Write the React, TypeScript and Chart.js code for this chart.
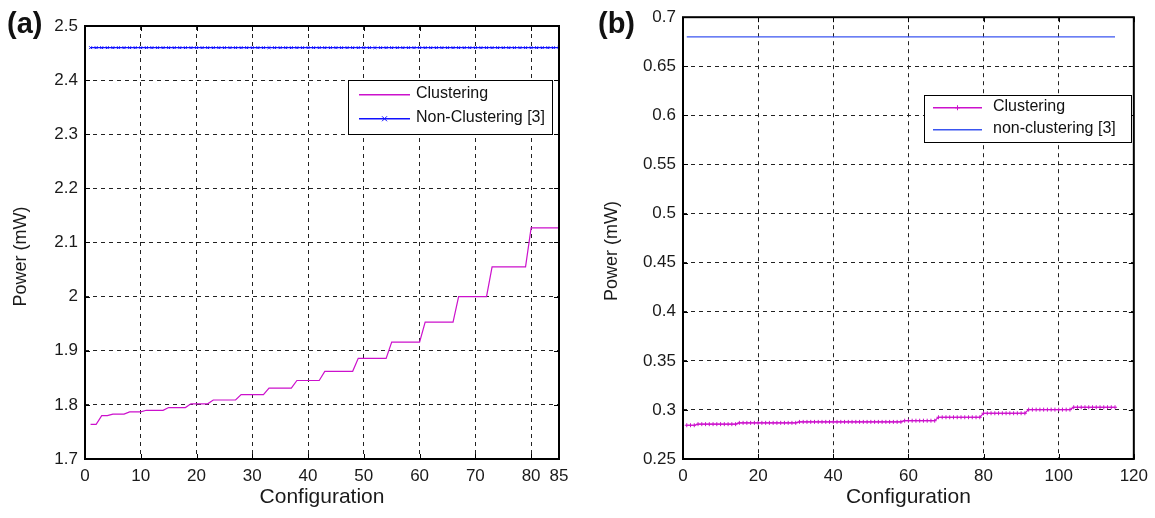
import React, { useEffect, useRef } from 'react';
import Chart from 'chart.js/auto';

// ---------- Panel (a) ----------
const A_X_TICKS = [0, 10, 20, 30, 40, 50, 60, 70, 80, 85];
const A_Y_TICKS = [1.7, 1.8, 1.9, 2, 2.1, 2.2, 2.3, 2.4, 2.5];
const A_LABELS = ['Clustering', 'Non-Clustering [3]'];
// configuration 1..85
const A_CLUSTERING = [
  1.764, 1.764,
  1.780, 1.780,
  1.783, 1.783, 1.783,
  1.787, 1.787, 1.787,
  1.790, 1.790, 1.790, 1.790,
  1.795, 1.795, 1.795, 1.795,
  1.802, 1.802, 1.802, 1.802,
  1.809, 1.809, 1.809, 1.809, 1.809,
  1.819, 1.819, 1.819, 1.819, 1.819,
  1.831, 1.831, 1.831, 1.831, 1.831,
  1.845, 1.845, 1.845, 1.845, 1.845,
  1.862, 1.862, 1.862, 1.862, 1.862, 1.862,
  1.886, 1.886, 1.886, 1.886, 1.886, 1.886,
  1.916, 1.916, 1.916, 1.916, 1.916, 1.916,
  1.953, 1.953, 1.953, 1.953, 1.953, 1.953,
  2.000, 2.000, 2.000, 2.000, 2.000, 2.000,
  2.055, 2.055, 2.055, 2.055, 2.055, 2.055, 2.055,
  2.127, 2.127, 2.127, 2.127, 2.127, 2.127,
];
const A_NONCLUSTERING = [
  2.46, 2.46, 2.46, 2.46, 2.46, 2.46, 2.46, 2.46, 2.46, 2.46,
  2.46, 2.46, 2.46, 2.46, 2.46, 2.46, 2.46, 2.46, 2.46, 2.46,
  2.46, 2.46, 2.46, 2.46, 2.46, 2.46, 2.46, 2.46, 2.46, 2.46,
  2.46, 2.46, 2.46, 2.46, 2.46, 2.46, 2.46, 2.46, 2.46, 2.46,
  2.46, 2.46, 2.46, 2.46, 2.46, 2.46, 2.46, 2.46, 2.46, 2.46,
  2.46, 2.46, 2.46, 2.46, 2.46, 2.46, 2.46, 2.46, 2.46, 2.46,
  2.46, 2.46, 2.46, 2.46, 2.46, 2.46, 2.46, 2.46, 2.46, 2.46,
  2.46, 2.46, 2.46, 2.46, 2.46, 2.46, 2.46, 2.46, 2.46, 2.46,
  2.46, 2.46, 2.46, 2.46, 2.46,
];

// ---------- Panel (b) ----------
const B_X_TICKS = [0, 20, 40, 60, 80, 100, 120];
const B_Y_TICKS = [0.25, 0.3, 0.35, 0.4, 0.45, 0.5, 0.55, 0.6, 0.65, 0.7];
const B_LABELS = ['Clustering', 'non-clustering [3]'];
// configuration 1..115
const B_CLUSTERING = [
  0.2844, 0.2844, 0.2844,
  0.2855, 0.2855, 0.2855, 0.2855, 0.2855, 0.2855, 0.2855, 0.2855, 0.2855, 0.2855, 0.2855,
  0.2868, 0.2868, 0.2868, 0.2868, 0.2868, 0.2868, 0.2868, 0.2868, 0.2868, 0.2868, 0.2868, 0.2868, 0.2868, 0.2868, 0.2868, 0.2868,
  0.2878, 0.2878, 0.2878, 0.2878, 0.2878, 0.2878, 0.2878, 0.2878, 0.2878, 0.2878,
  0.2878, 0.2878, 0.2878, 0.2878, 0.2878, 0.2878, 0.2878, 0.2878, 0.2878, 0.2878,
  0.2878, 0.2878, 0.2878, 0.2878, 0.2878, 0.2878, 0.2878, 0.2878,
  0.2890, 0.2890, 0.2890, 0.2890, 0.2890, 0.2890, 0.2890, 0.2890, 0.2890,
  0.2925, 0.2925, 0.2925, 0.2925, 0.2925, 0.2925, 0.2925, 0.2925, 0.2925, 0.2925, 0.2925, 0.2925,
  0.2966, 0.2966, 0.2966, 0.2966, 0.2966, 0.2966, 0.2966, 0.2966, 0.2966, 0.2966, 0.2966, 0.2966,
  0.3003, 0.3003, 0.3003, 0.3003, 0.3003, 0.3003, 0.3003, 0.3003, 0.3003, 0.3003, 0.3003, 0.3003,
  0.3027, 0.3027, 0.3027, 0.3027, 0.3027, 0.3027, 0.3027, 0.3027, 0.3027, 0.3027, 0.3027, 0.3027,
];
const B_NONCLUSTERING = [
  0.68, 0.68, 0.68, 0.68, 0.68, 0.68, 0.68, 0.68, 0.68, 0.68,
  0.68, 0.68, 0.68, 0.68, 0.68, 0.68, 0.68, 0.68, 0.68, 0.68,
  0.68, 0.68, 0.68, 0.68, 0.68, 0.68, 0.68, 0.68, 0.68, 0.68,
  0.68, 0.68, 0.68, 0.68, 0.68, 0.68, 0.68, 0.68, 0.68, 0.68,
  0.68, 0.68, 0.68, 0.68, 0.68, 0.68, 0.68, 0.68, 0.68, 0.68,
  0.68, 0.68, 0.68, 0.68, 0.68, 0.68, 0.68, 0.68, 0.68, 0.68,
  0.68, 0.68, 0.68, 0.68, 0.68, 0.68, 0.68, 0.68, 0.68, 0.68,
  0.68, 0.68, 0.68, 0.68, 0.68, 0.68, 0.68, 0.68, 0.68, 0.68,
  0.68, 0.68, 0.68, 0.68, 0.68, 0.68, 0.68, 0.68, 0.68, 0.68,
  0.68, 0.68, 0.68, 0.68, 0.68, 0.68, 0.68, 0.68, 0.68, 0.68,
  0.68, 0.68, 0.68, 0.68, 0.68, 0.68, 0.68, 0.68, 0.68, 0.68,
  0.68, 0.68, 0.68, 0.68, 0.68,
];

const X_TITLE = 'Configuration';
const Y_TITLE = 'Power (mW)';

const FONT = '"Liberation Sans", Arial, Helvetica, sans-serif';
const MAGENTA = '#cc11cc';
const BLUE_A = '#1010ff';
const BLUE_B = '#3a55f0';

const toPoints = (vals: number[]) => vals.map((v, i) => ({ x: i + 1, y: v }));

function drawMarker(ctx: CanvasRenderingContext2D, style: string, x: number, y: number, r: number) {
  ctx.beginPath();
  if (style === 'cross') {
    ctx.moveTo(x - r, y); ctx.lineTo(x + r, y);
    ctx.moveTo(x, y - r); ctx.lineTo(x, y + r);
  } else if (style === 'crossRot') {
    ctx.moveTo(x - r, y - r); ctx.lineTo(x + r, y + r);
    ctx.moveTo(x - r, y + r); ctx.lineTo(x + r, y - r);
  }
  ctx.stroke();
}

const framePlugin = {
  id: 'frameBox',
  afterDatasetsDraw(chart: any) {
    const { ctx, chartArea: a, scales } = chart;
    ctx.save();
    ctx.strokeStyle = '#000';
    ctx.lineWidth = 1;
    const tl = 5;
    ctx.beginPath();
    scales.x.ticks.forEach((t: any) => {
      const px = Math.round(scales.x.getPixelForValue(t.value)) + 0.5;
      ctx.moveTo(px, a.bottom); ctx.lineTo(px, a.bottom - tl);
      ctx.moveTo(px, a.top); ctx.lineTo(px, a.top + tl);
    });
    scales.y.ticks.forEach((t: any) => {
      const py = Math.round(scales.y.getPixelForValue(t.value)) + 0.5;
      ctx.moveTo(a.left, py); ctx.lineTo(a.left + tl, py);
      ctx.moveTo(a.right, py); ctx.lineTo(a.right - tl, py);
    });
    ctx.stroke();
    ctx.lineWidth = 2;
    ctx.strokeRect(a.left, a.top, a.right - a.left, a.bottom - a.top);
    ctx.restore();
  },
};

const yTitlePlugin = {
  id: 'yTitle',
  afterDraw(chart: any, _args: any, opts: any) {
    const { ctx, chartArea: a } = chart;
    ctx.save();
    ctx.font = `${opts.fontSize}px ${FONT}`;
    ctx.fillStyle = '#1a1a1a';
    ctx.textAlign = 'center';
    ctx.textBaseline = 'middle';
    ctx.translate(opts.x, (a.top + a.bottom) / 2 + opts.dy);
    ctx.rotate(-Math.PI / 2);
    ctx.fillText(opts.text, 0, 0);
    ctx.restore();
  },
};

const legendPlugin = {
  id: 'boxLegend',
  afterDraw(chart: any, _args: any, opts: any) {
    const { ctx } = chart;
    const { x, y, w, h, rows, lineX1, lineX2, textX, fontSize } = opts;
    ctx.save();
    ctx.fillStyle = '#fff';
    ctx.fillRect(x, y, w, h);
    ctx.strokeStyle = '#000';
    ctx.lineWidth = 1;
    ctx.strokeRect(x + 0.5, y + 0.5, w, h);
    ctx.font = `${fontSize}px ${FONT}`;
    ctx.textBaseline = 'middle';
    ctx.textAlign = 'left';
    chart.data.datasets.forEach((ds: any, i: number) => {
      const color = String(ds.borderColor);
      const cy = Math.round(y + rows[i]);
      ctx.fillStyle = color;
      ctx.fillRect(x + lineX1, cy, lineX2 - lineX1, 1.5);
      if (ds.pointRadius > 0) {
        ctx.strokeStyle = color;
        ctx.lineWidth = 1;
        drawMarker(ctx, ds.pointStyle, x + (lineX1 + lineX2) / 2, cy + 0.75, 2.5);
      }
      ctx.fillStyle = '#111';
      ctx.fillText(ds.label, x + textX, cy);
    });
    ctx.restore();
  },
};

function makeConfig(p: any) {
  const tickFont = { family: FONT, size: 17 };
  return {
    type: 'line',
    data: { datasets: p.datasets },
    options: {
      animation: false,
      responsive: false,
      maintainAspectRatio: false,
      layout: { padding: p.padding },
      plugins: {
        legend: { display: false },
        tooltip: { enabled: false },
        boxLegend: p.legend,
        yTitle: p.yTitle,
      },
      scales: {
        x: {
          type: 'linear',
          min: p.xTicks[0],
          max: p.xTicks[p.xTicks.length - 1],
          afterBuildTicks: (s: any) => { s.ticks = p.xTicks.map((v: number) => ({ value: v })); },
          afterFit: (s: any) => { s.height = p.xHeight; },
          grid: { color: '#222', lineWidth: 1, drawTicks: false },
          border: { display: false, dash: [4, 4] },
          ticks: { font: tickFont, color: '#1a1a1a', padding: 7, maxRotation: 0, autoSkip: false, callback: (v: any) => String(v) },
          title: { display: true, text: X_TITLE, font: { family: FONT, size: 21 }, color: '#1a1a1a', padding: { top: 0, bottom: 8 } },
        },
        y: {
          type: 'linear',
          min: p.yTicks[0],
          max: p.yTicks[p.yTicks.length - 1],
          afterBuildTicks: (s: any) => { s.ticks = p.yTicks.map((v: number) => ({ value: v })); },
          afterFit: (s: any) => { s.width = p.yWidth; },
          grid: { color: '#222', lineWidth: 1, drawTicks: false },
          border: { display: false, dash: [4, 4] },
          ticks: { font: tickFont, color: '#1a1a1a', padding: 7, autoSkip: false, callback: (v: any) => String(v) },
          title: { display: false },
        },
      },
    },
    plugins: [framePlugin, legendPlugin, yTitlePlugin],
  };
}

function Panel({ config, width, height }: { config: any; width: number; height: number }) {
  const ref = useRef<HTMLCanvasElement>(null);
  useEffect(() => {
    const chart = new Chart(ref.current as HTMLCanvasElement, config);
    return () => chart.destroy();
  }, []);
  return <canvas ref={ref} width={width} height={height} style={{ display: 'block', width, height }} />;
}

const configA = makeConfig({
  xTicks: A_X_TICKS,
  yTicks: A_Y_TICKS,
  padding: { top: 26, right: 21, left: 0, bottom: 0 },
  yWidth: 85,
  xHeight: 59,
  datasets: [
    {
      label: A_LABELS[0],
      data: toPoints(A_CLUSTERING),
      borderColor: MAGENTA,
      borderWidth: 1.2,
      pointRadius: 0,
      tension: 0,
    },
    {
      label: A_LABELS[1],
      data: toPoints(A_NONCLUSTERING),
      borderColor: BLUE_A,
      borderWidth: 1.2,
      pointRadius: 2,
      pointStyle: 'crossRot',
      pointBorderColor: BLUE_A,
      pointBorderWidth: 1,
      tension: 0,
    },
  ],
  legend: { x: 348, y: 80, w: 204, h: 54, rows: [14, 38], lineX1: 11, lineX2: 62, textX: 68, fontSize: 16 },
  yTitle: { text: Y_TITLE, x: 21, dy: 14, fontSize: 18 },
});

const configB = makeConfig({
  xTicks: B_X_TICKS,
  yTicks: B_Y_TICKS,
  padding: { top: 17, right: 20, left: 0, bottom: 0 },
  yWidth: 93,
  xHeight: 59,
  datasets: [
    {
      label: B_LABELS[0],
      data: toPoints(B_CLUSTERING),
      borderColor: MAGENTA,
      borderWidth: 1.2,
      pointRadius: 2,
      pointStyle: 'cross',
      pointBorderColor: MAGENTA,
      pointBorderWidth: 1,
      tension: 0,
    },
    {
      label: B_LABELS[1],
      data: toPoints(B_NONCLUSTERING),
      borderColor: BLUE_B,
      borderWidth: 1.2,
      pointRadius: 0,
      tension: 0,
    },
  ],
  legend: { x: 334, y: 95, w: 207, h: 47, rows: [12, 34], lineX1: 9, lineX2: 58, textX: 69, fontSize: 16 },
  yTitle: { text: Y_TITLE, x: 22, dy: 13, fontSize: 18 },
});

const panelLabel: React.CSSProperties = {
  position: 'absolute',
  top: 7,
  font: `bold 29px ${FONT}`,
  lineHeight: '32px',
  color: '#111',
};

export default function App() {
  return (
    <div style={{ position: 'absolute', left: 0, top: 0, width: 1155, height: 518, background: '#fff', overflow: 'hidden' }}>
      <div style={{ position: 'absolute', left: 0, top: 0 }}>
        <Panel config={configA} width={580} height={518} />
      </div>
      <div style={{ position: 'absolute', left: 590, top: 0 }}>
        <Panel config={configB} width={565} height={518} />
      </div>
      <div style={{ ...panelLabel, left: 7 }}>(a)</div>
      <div style={{ ...panelLabel, left: 598 }}>(b)</div>
    </div>
  );
}
